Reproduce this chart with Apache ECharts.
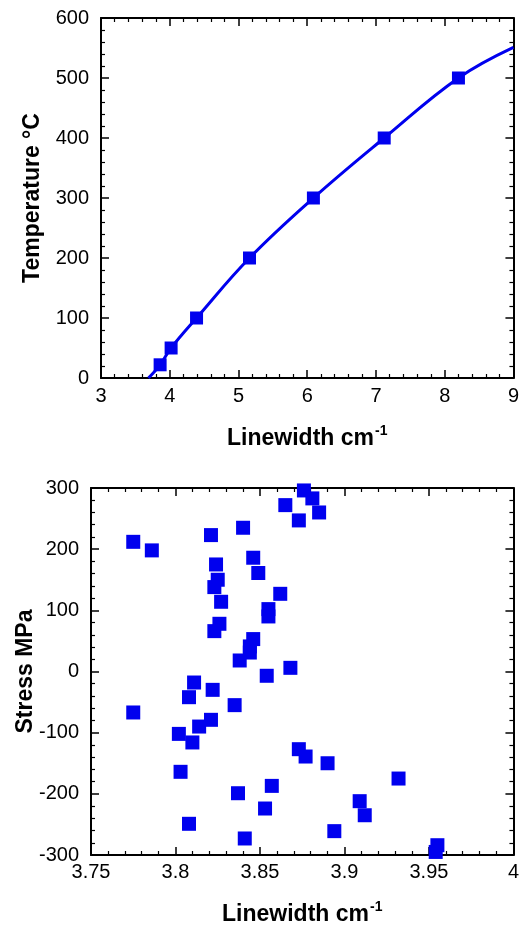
<!DOCTYPE html>
<html>
<head>
<meta charset="utf-8">
<script src="https://cdn.jsdelivr.net/npm/echarts@6/dist/echarts.min.js"></script>
<style>
  html, body { margin: 0; padding: 0; background: #fff; }
  #chart { width: 522px; height: 928px; }
</style>
</head>
<body>
<div id="chart"></div>
<script>
// top panel: calibration points and fitted curve
const calibPoints = [
    [3.86, 22], [4.02, 50], [4.39, 100], [5.16, 200],
    [6.09, 300], [7.12, 400], [8.20, 500]
];
const fitCurve = [
    [3.69, 0], [3.86, 22], [4.02, 50], [4.39, 100], [5.16, 200],
    [6.09, 300], [7.12, 400], [8.20, 500], [9.0, 551]
];

// bottom panel: stress vs linewidth
const stressPoints = [
    [3.876, 296], [3.881, 283], [3.885, 260], [3.865, 272], [3.873, 247],
    [3.840, 235], [3.821, 223], [3.775, 212], [3.786, 198], [3.846, 186],
    [3.824, 175], [3.849, 161], [3.825, 150], [3.823, 138], [3.862, 127],
    [3.827, 114], [3.855, 102], [3.855, 90], [3.826, 78], [3.823, 66],
    [3.846, 53], [3.844, 41], [3.844, 31], [3.838, 18], [3.868, 6],
    [3.854, -7], [3.811, -18], [3.822, -30], [3.808, -42], [3.835, -55],
    [3.775, -67], [3.821, -79], [3.814, -90], [3.802, -102], [3.810, -116],
    [3.873, -127], [3.877, -139], [3.890, -150], [3.803, -164], [3.932, -175],
    [3.857, -187], [3.837, -199], [3.909, -212], [3.853, -224], [3.912, -235],
    [3.808, -249], [3.894, -261], [3.841, -273], [3.955, -284], [3.954, -295]
];

const BLUE = '#0000ee';
const FONT = 'Liberation Sans, Arial, sans-serif';

// superscript via rich text: pad the main part downward so "-1" ends up raised
const nameRich = {
    b: { fontSize: 23, lineHeight: 24, fontWeight: 'bold', fontFamily: FONT, color: '#000', padding: [16, 0, 0, 0] },
    sup: { fontSize: 14, lineHeight: 14, fontWeight: 'bold', fontFamily: FONT, color: '#000', padding: [0, 0, 0, 1] }
};

function mainAxis(extra) {
    return Object.assign({
        type: 'value',
        axisLine: { show: true, onZero: false, lineStyle: { color: '#000', width: 2 } },
        axisTick: { show: true, inside: true, length: 8, lineStyle: { color: '#000', width: 1.5 } },
        minorTick: { show: true, splitNumber: 5, length: 4, lineStyle: { color: '#000', width: 1.2 } },
        splitLine: { show: false },
        axisLabel: { color: '#000', fontSize: 20, fontFamily: FONT },
        nameMoveOverlap: false,
        nameTextStyle: { color: '#000', fontSize: 23, fontWeight: 'bold', fontFamily: FONT, rich: nameRich }
    }, extra);
}
function mirrorAxis(extra) {
    return Object.assign(mainAxis({}), { axisLabel: { show: false }, name: '' }, extra);
}

const chart = echarts.init(document.getElementById('chart'));
chart.setOption({
    animation: false,
    grid: [
        { left: 101, top: 18, width: 418, height: 360 },
        { left: 91, top: 488, width: 426, height: 367 }
    ],
    xAxis: [
        mainAxis({ gridIndex: 0, min: 3, max: 9, interval: 1, position: 'bottom',
            axisLabel: { color: '#000', fontSize: 20, fontFamily: FONT, margin: 8 },
            name: '{b|Linewidth cm}{sup|-1}', nameLocation: 'middle', nameGap: 41 }),
        mirrorAxis({ gridIndex: 0, min: 3, max: 9, interval: 1, position: 'top' }),
        mainAxis({ gridIndex: 1, min: 3.75, max: 4, interval: 0.05, position: 'bottom',
            axisLabel: { color: '#000', fontSize: 20, fontFamily: FONT, margin: 7,
                formatter: v => +v.toFixed(2) + '' },
            name: '{b|Linewidth cm}{sup|-1}', nameLocation: 'middle', nameGap: 40 }),
        mirrorAxis({ gridIndex: 1, min: 3.75, max: 4, interval: 0.05, position: 'top' })
    ],
    yAxis: [
        mainAxis({ gridIndex: 0, min: 0, max: 600, interval: 100, position: 'left',
            axisLabel: { color: '#000', fontSize: 20, fontFamily: FONT, margin: 12 },
            name: 'Temperature °C', nameLocation: 'middle', nameGap: 57 }),
        mirrorAxis({ gridIndex: 0, min: 0, max: 600, interval: 100, position: 'right' }),
        mainAxis({ gridIndex: 1, min: -300, max: 300, interval: 100, position: 'left',
            axisLabel: { color: '#000', fontSize: 20, fontFamily: FONT, margin: 12 },
            name: 'Stress MPa', nameLocation: 'middle', nameGap: 54 }),
        mirrorAxis({ gridIndex: 1, min: -300, max: 300, interval: 100, position: 'right' })
    ],
    series: [
        { type: 'line', xAxisIndex: 0, yAxisIndex: 0, data: fitCurve, smooth: 0.4,
          showSymbol: false, lineStyle: { color: BLUE, width: 3 }, z: 2 },
        { type: 'scatter', xAxisIndex: 0, yAxisIndex: 0, data: calibPoints,
          symbol: 'rect', symbolSize: 13, itemStyle: { color: BLUE, opacity: 1 }, z: 3 },
        { type: 'scatter', xAxisIndex: 2, yAxisIndex: 2, data: stressPoints,
          symbol: 'rect', symbolSize: 14, itemStyle: { color: BLUE, opacity: 1 }, z: 3 }
    ]
});
</script>
</body>
</html>
